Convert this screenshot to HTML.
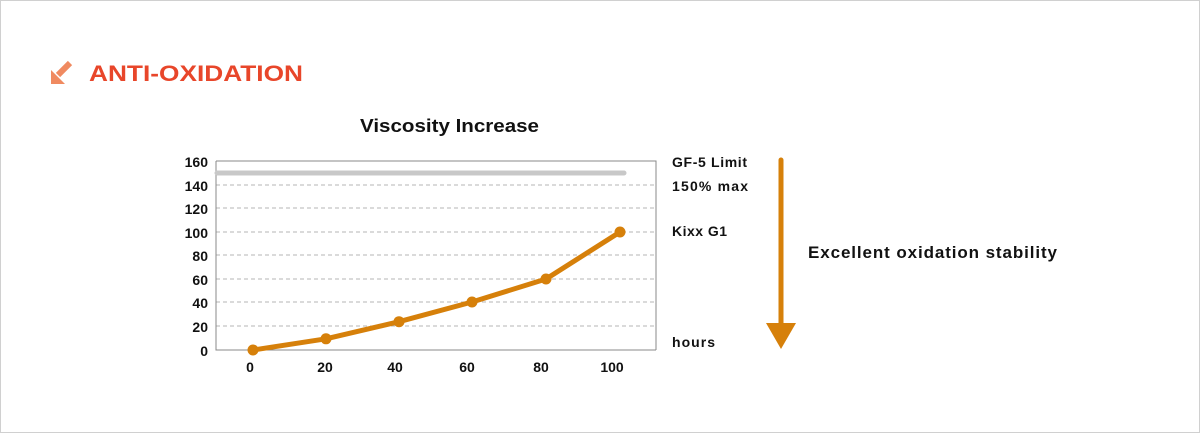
<!DOCTYPE html>
<html><head><style>
body{margin:0;background:#fff;}
.wrap{position:relative;width:1198px;height:431px;border:1px solid #d0d0d0;overflow:hidden;font-family:"Liberation Sans",sans-serif;}
</style></head><body><div class="wrap">
<svg width="1200" height="433" style="position:absolute;left:-1px;top:-1px" font-family="Liberation Sans, sans-serif" font-weight="bold">
<line x1="70" y1="63" x2="58" y2="75" stroke="#f08a60" stroke-width="6"/>
<polygon points="51,84 51,70 65,84" fill="#f08a60"/>
<text x="89" y="81" font-size="22" fill="#e8462a" textLength="214" lengthAdjust="spacingAndGlyphs">ANTI-OXIDATION</text>
<text x="360" y="132" font-size="18" fill="#111" textLength="179" lengthAdjust="spacingAndGlyphs">Viscosity Increase</text>
<g stroke="#b5b5b5" stroke-dasharray="4,3" stroke-width="1">
<line x1="216" x2="656" y1="185" y2="185"/><line x1="216" x2="656" y1="208" y2="208"/>
<line x1="216" x2="656" y1="232" y2="232"/><line x1="216" x2="656" y1="255" y2="255"/>
<line x1="216" x2="656" y1="279" y2="279"/><line x1="216" x2="656" y1="302" y2="302"/>
<line x1="216" x2="656" y1="326" y2="326"/></g>
<path d="M216,161H656V350M216,161V350H656" fill="none" stroke="#888" stroke-width="1"/>
<line x1="217" x2="624" y1="173" y2="173" stroke="#c8c8c8" stroke-width="5" stroke-linecap="round"/>
<polyline points="253,350 326,338.8 399,321.7 472,302 546,279 620,232" fill="none" stroke="#d6800a" stroke-width="5" stroke-linejoin="round"/>
<g fill="#d6800a"><circle cx="253" cy="350" r="5.5"/><circle cx="326" cy="338.8" r="5.5"/><circle cx="399" cy="321.7" r="5.5"/><circle cx="472" cy="302" r="5.5"/><circle cx="546" cy="279" r="5.5"/><circle cx="620" cy="232" r="5.5"/></g>
<g font-size="14" fill="#111" text-anchor="end">
<text x="208" y="167">160</text><text x="208" y="191">140</text><text x="208" y="214">120</text><text x="208" y="238">100</text><text x="208" y="261">80</text><text x="208" y="285">60</text><text x="208" y="308">40</text><text x="208" y="332">20</text><text x="208" y="356">0</text></g>
<g font-size="14" fill="#111" text-anchor="middle">
<text x="250" y="372">0</text><text x="325" y="372">20</text><text x="395" y="372">40</text><text x="467" y="372">60</text><text x="541" y="372">80</text><text x="612" y="372">100</text></g>
<g font-size="14" fill="#111" lengthAdjust="spacingAndGlyphs">
<text x="672" y="167" textLength="75">GF-5 Limit</text><text x="672" y="191" textLength="76">150% max</text><text x="672" y="236" textLength="55">Kixx G1</text><text x="672" y="347" textLength="43">hours</text>
<text x="808" y="258" font-size="17" textLength="249">Excellent oxidation stability</text></g>
<line x1="781" x2="781" y1="160" y2="326" stroke="#d6800a" stroke-width="5" stroke-linecap="round"/>
<polygon points="766,323 796,323 781,349" fill="#d6800a"/>
</svg></div></body></html>
